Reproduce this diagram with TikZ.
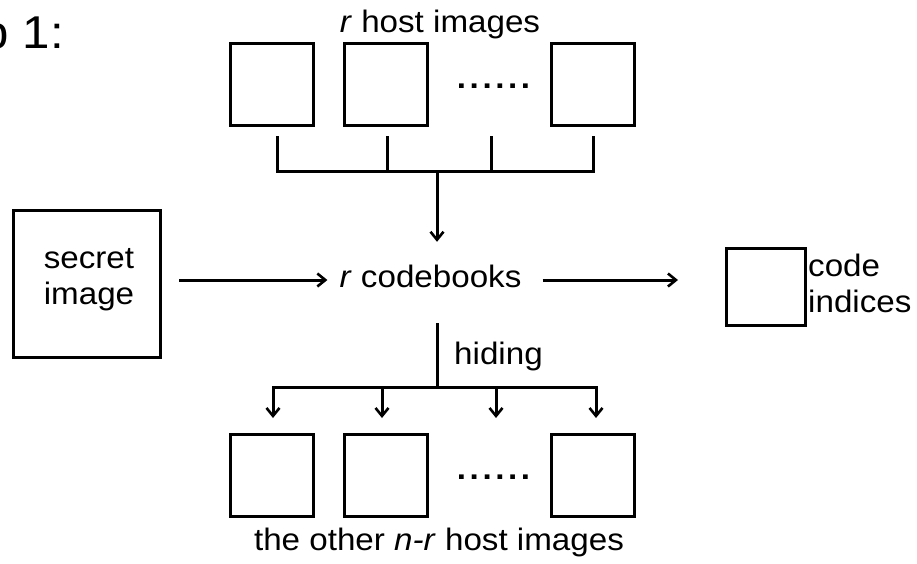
\documentclass[tikz,border=0pt]{standalone}
\usepackage{fontspec}
\setmainfont{Liberation Sans}[FakeStretch=1.07]
\usetikzlibrary{arrows.meta}
\newcommand{\sixdots}{.\hspace{3.6pt}.\hspace{3.6pt}.\hspace{3.6pt}.\hspace{3.6pt}.\hspace{3.6pt}.}
\begin{document}
\begin{tikzpicture}[x=1pt,y=-1pt,
  ln/.style={line width=3pt},
  arr/.style={line width=3pt,-{Straight Barb[length=8pt,width=13pt,line width=2.6pt]}},
  imgbox/.style={draw, line width=3pt, minimum width=83pt, minimum height=82pt, inner sep=0pt},
  txt/.style={font=\fontsize{31}{36}\selectfont, inner sep=0pt},
  dotsnode/.style={font=\fontsize{31}{36}\selectfont\bfseries, inner sep=0pt, anchor=base}]
\useasboundingbox (0,0) rectangle (917,563);
\clip (0,0) rectangle (917,563);

% title
\node[font=\fontsize{46}{50}\selectfont, inner sep=0pt, anchor=base west] (title) at (-18.3,48) {p 1:};

% top host images
\node[txt, anchor=base] (toplbl) at (440,32) {\textit{r} host images};
\node[imgbox] (h1) at (272,84.5) {};
\node[imgbox] (h2) at (385.5,84.5) {};
\node[dotsnode] (hd) at (493.5,88) {\sixdots};
\node[imgbox] (h4) at (592.5,84.5) {};

% secret image
\node[draw, line width=3pt, minimum size=147pt, inner sep=0pt] (secret) at (87,284) {};
\node[txt, align=center] (secrettxt) at (89,280) {secret\\image};

% codebooks
\node[txt, anchor=base, inner xsep=12pt, inner ysep=0pt, text height=45pt, text depth=36pt] (cb) at (430.5,287) {\textit{r} codebooks};

% code indices
\node[draw, line width=3pt, minimum width=79pt, minimum height=77pt, inner sep=0pt] (code) at (766,287) {};
\node[txt, align=left, anchor=west] (codetxt) at (808,283) {code\\indices};

% bottom host images
\node[imgbox] (b1) at (272,475.5) {};
\node[imgbox] (b2) at (385.5,475.5) {};
\node[dotsnode] (bd) at (493.5,479) {\sixdots};
\node[imgbox] (b4) at (592.5,475.5) {};
\node[txt, anchor=base] (botlbl) at (439,550) {the other \textit{n-r} host images};

% top collector
\coordinate (busT) at (437,171);
\draw[ln] ([xshift=5pt,yshift=-9pt]h1.south) |- ([xshift=0.5pt]h4.south |- busT) -- ([xshift=0.5pt,yshift=-9pt]h4.south);
\draw[ln] ([xshift=1.5pt,yshift=-9pt]h2.south) -- ([xshift=1.5pt]h2.south |- busT);
\draw[ln] ([xshift=-2.5pt,yshift=-9pt]hd.south |- h1.south) -- ([xshift=-2.5pt]hd.south |- busT);
\draw[arr] (busT) -- (cb.north -| busT);

% horizontal flow
\draw[arr] ([xshift=17pt,yshift=4pt]secret.east) -- ([yshift=2.5pt]cb.west);
\draw[arr] ([xshift=9pt,yshift=2.5pt]cb.east) -- ([xshift=-47pt,yshift=7pt]code.west);

% hiding distribution
\coordinate (busB) at (437,387);
\draw[ln] (cb.south -| busB) -- (busB);
\node[txt, anchor=base west] (hiding) at (454,364) {hiding};
\draw[arr] (busB) -| ([xshift=1pt,yshift=15pt]b1.north);
\draw[arr] (busB) -| ([xshift=3.5pt,yshift=15pt]b4.north);
\draw[arr] ([xshift=-3.5pt]b2.north |- busB) -- ([xshift=-3.5pt,yshift=15pt]b2.north);
\draw[arr] ([xshift=2.5pt]bd.north |- busB) -- ([xshift=2.5pt]bd.north |- 0,418);
\end{tikzpicture}
\end{document}
